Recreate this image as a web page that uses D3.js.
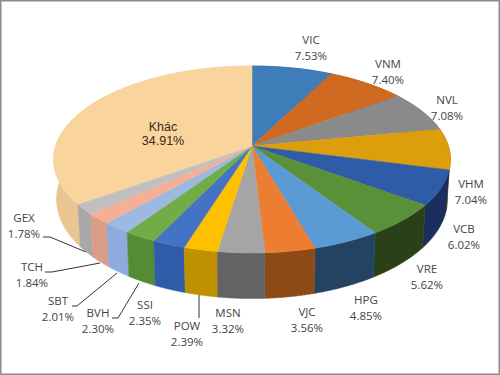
<!DOCTYPE html>
<html><head><meta charset="utf-8">
<script src="https://cdnjs.cloudflare.com/ajax/libs/d3/7.8.5/d3.min.js"></script>
<style>html,body{margin:0;padding:0;background:#fff}svg{display:block}text{font-family:"Open Sans",sans-serif;}</style>
</head><body><svg id="c" width="500" height="375"></svg>
<script>
const names=["VIC","VNM","NVL","VHM","VCB","VRE","HPG","VJC","MSN","POW","SSI","BVH","SBT","TCH","GEX","Khác"];
const values=[7.53,7.40,7.08,7.04,6.02,5.62,4.85,3.56,3.32,2.39,2.35,2.30,2.01,1.84,1.78,34.91];
const topColors=["#3F7DB8","#CF6A20","#8A8A8A","#DD9E0B","#2F5CA6","#5A9038","#5B9BD5","#ED7D31","#A5A5A5","#FFC000","#4472C4","#70AD47","#9DB9E0","#F4B097","#C0C0C0","#F9D49D"];
const wallColors=["#2A5580","#8C4A17","#5E5E5E","#96700A","#1B2F5E","#2A4016","#244363","#8C4A17","#636363","#BF9000","#2F5CA8","#548C35","#8FAADC","#DB9C88","#A8A8A8","#EBC58F"];
const labelX=[311,388,447,471,464,427,366,307,228,187,145,98,58,32,24,163];
const labelY=[40,64,100,184,229,269,300,312,313,326,305,313,301,267,218,127];
const leaders=[[[199,295],[199,318]],[[112,318],[118,318],[139,283]],[[72,306],[77,306],[117,273]],[[45,272],[52,272],[100,263]],[[43,237],[50,237],[86,252]]];

const svg=d3.select("#c");
const k=0.1444,R=196.4,B=91.55,D=39,ax=252,ay=146;
const topPt=a=>{const u=Math.sin(a),v=-Math.cos(a),w=1-k*v;return [ax+R*u/w,ay+B*v/w];};
const botPt=a=>{const u=Math.sin(a),v=-Math.cos(a),w=1-k*v;return [ax+0.985*R*u/w,ay+B*v/w+D/w];};
const line=d3.line();
const pie=d3.pie().sort(null).value(d=>d)(values);
const samples=(s,e)=>d3.range(0,41).map(i=>s+(e-s)*i/40);

// side walls, back to front, then top faces
const midV=p=>-Math.cos((p.startAngle+p.endAngle)/2);
const order=d3.range(pie.length).sort((a,b)=>midV(pie[a])-midV(pie[b]));
order.forEach(i=>{const as=samples(pie[i].startAngle,pie[i].endAngle);
  svg.append("path").attr("d",line(as.map(topPt).concat(as.slice().reverse().map(botPt)))+"Z")
   .attr("fill",wallColors[i]).attr("stroke",wallColors[i]).attr("stroke-width",0.5);});
pie.forEach((p,i)=>{const as=samples(p.startAngle,p.endAngle);
  svg.append("path").attr("d",line([[ax,ay]].concat(as.map(topPt)))+"Z")
   .attr("fill",topColors[i]).attr("stroke",topColors[i]).attr("stroke-width",0.5);});

leaders.forEach(l=>svg.append("path").attr("d",line(l)).attr("fill","none").attr("stroke","#333").attr("stroke-width",1));

const fmt=d3.format(".2f");
names.forEach((n,i)=>{
  const big=i==15;
  const t=svg.append("text").attr("text-anchor","middle").attr("font-size",big?12.5:11.5).attr("fill",big?"#3a2a1a":"#444")
    .style("font-family",big?'"Liberation Sans",sans-serif':null);
  t.append("tspan").attr("x",labelX[i]).attr("y",labelY[i]+4).text(n);
  t.append("tspan").attr("x",labelX[i]).attr("y",labelY[i]+(big?18:20)).text(fmt(values[i])+"%");
});
svg.append("rect").attr("x",0.75).attr("y",0.75).attr("width",498.5).attr("height",373.5).attr("fill","none").attr("stroke","#8c8c8c").attr("stroke-width",1.5);
</script></body></html>
